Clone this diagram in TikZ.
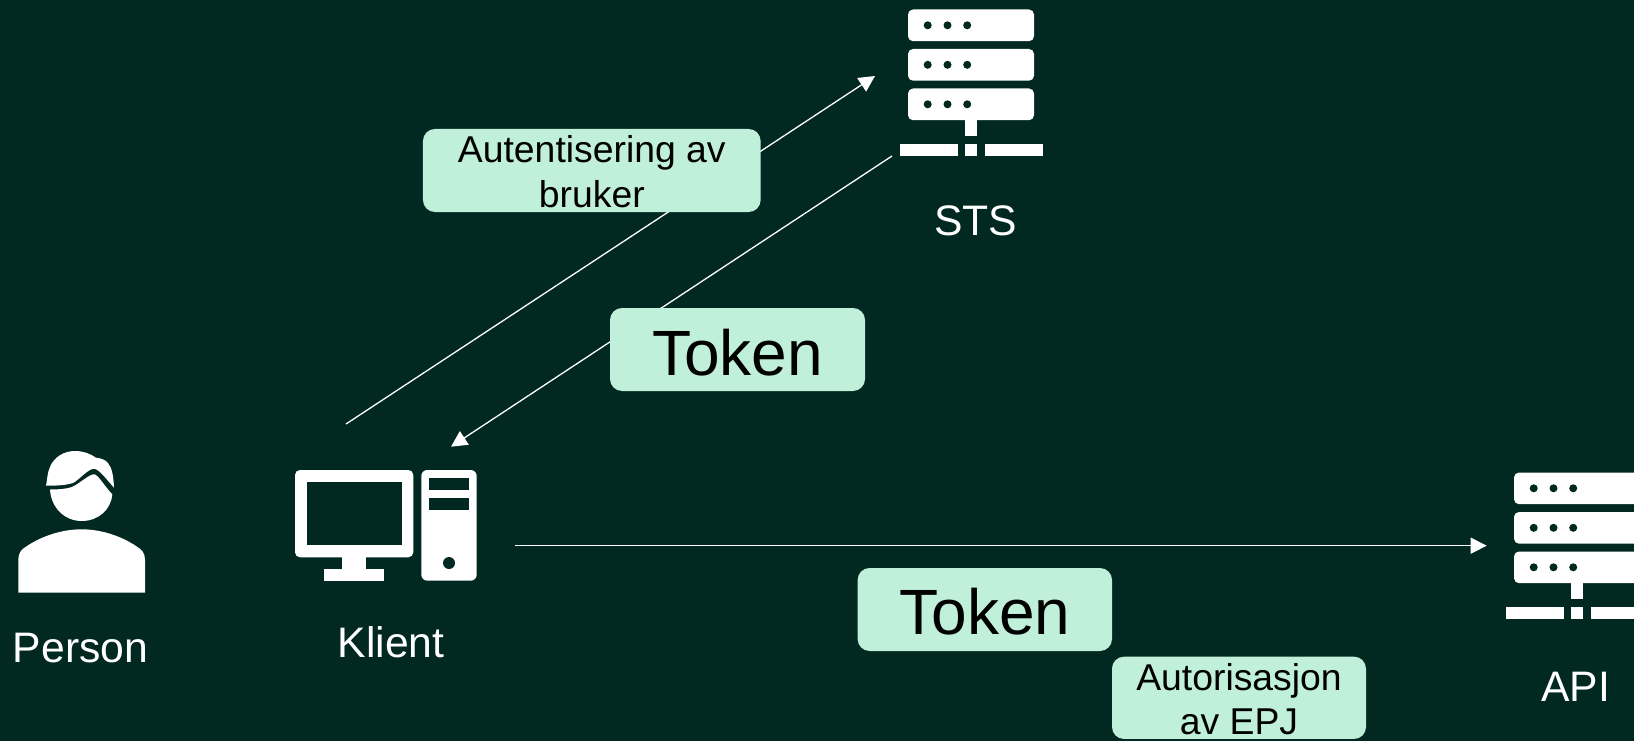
\documentclass[tikz,border=0pt]{standalone}
\usepackage{fontspec}
\setmainfont{Liberation Sans}
\usetikzlibrary{arrows.meta}
\definecolor{bgc}{RGB}{2,41,33}
\definecolor{pillc}{RGB}{193,240,218}
\tikzset{
  x=1pt,y=-1pt,
  pill/.style={fill=pillc,rounded corners=12pt,inner sep=0pt,text=black,align=center},
  lbl/.style={text=white,anchor=base,inner sep=0pt,font=\fontsize{42.67}{46}\selectfont},
  flow/.style={draw=white,line width=1.3pt,-{Triangle[length=16pt,width=16pt]}},
}
\newcommand{\servericon}[2]{%
  \begin{scope}[shift={(#1,#2)}]
    \foreach \yy in {9.5,49,88.5}{
      \fill[white,rounded corners=5pt] (908,\yy) rectangle (1034,\yy+31.7);
      \foreach \xx in {927.7,947.5,967.2}
        \fill[bgc] (\xx,\yy+15.8) circle (4);
    }
    \fill[white] (965,120) rectangle (977,136);
    \fill[white] (900,144) rectangle (957.5,156);
    \fill[white] (965,144) rectangle (977,156);
    \fill[white] (985,144) rectangle (1043,156);
  \end{scope}}
\begin{document}
\begin{tikzpicture}
\useasboundingbox (0,0) rectangle (1634,741);
\fill[bgc] (0,0) rectangle (1634,741);
% connector ends
\coordinate (authStart) at (346,424);
\coordinate (authEnd) at (875,76);
\coordinate (tokStart) at (892,156);
\coordinate (tokEnd) at (451,446.7);
\coordinate (apiStart) at (515,545.7);
\coordinate (apiEnd) at (1486.7,545.7);
\draw[flow] (authStart) -- (authEnd);
\draw[flow] (tokStart) -- (tokEnd);
\draw[flow] (apiStart) -- (apiEnd);
% servers
\servericon{0}{0}
\servericon{606}{463}
% person
\fill[white] (18.3,592.5) -- (18.3,560) .. controls (18.3,553) and (21,549.5) .. (27,546) .. controls (42,536) and (62,529.3) .. (81.7,529.3) .. controls (101,529.3) and (121,536) .. (136,546) .. controls (142,549.5) and (145,553) .. (145,560) -- (145,592.5) -- cycle;
\fill[white] (50,489.5) .. controls (58,489.5) and (66,489) .. (72,487) .. controls (79,484) and (89,474.3) .. (94,474.3) .. controls (98,474.3) and (105,487) .. (112.3,494.3) .. controls (111,510) and (98,521) .. (81.7,521) .. controls (64,521) and (51,507) .. (50,489.5) -- cycle;
\fill[white] (46,485.7) .. controls (47.5,478) and (47.5,472) .. (50,467) .. controls (54,457) and (64,451) .. (75,451) .. controls (83,451) and (90,453.5) .. (96,457.7) .. controls (101,458) and (106,460) .. (108.3,463.5) .. controls (112,468) and (113.5,476) .. (114,487.7) .. controls (107,480) and (99,468.8) .. (94,468.8) .. controls (88,468.8) and (79,480) .. (73,483) .. controls (65,485.5) and (55,485.7) .. (46,485.7) -- cycle;
% computer
\fill[white,rounded corners=5pt] (295,470) rectangle (413.3,557.3);
\fill[bgc] (306.7,481.7) rectangle (401.7,545.3);
\fill[white] (342.3,557) rectangle (366,570);
\fill[white] (324.3,569.3) rectangle (384,580.7);
\fill[white,rounded corners=6pt] (421.3,470) rectangle (476.7,580.7);
\fill[bgc] (429,478) rectangle (469,490);
\fill[bgc] (429,498) rectangle (469,510);
\fill[bgc] (449,563) circle (6);
% labels
\node[lbl] (sts) at (975.5,235.7) {STS};
\node[lbl] (api) at (1575.7,701.7) {API};
\node[lbl] (person) at (80.5,662) {Person};
\node[lbl] (klient) at (391,657.7) {Klient};
% pills
\node[pill,minimum width=337.7pt,minimum height=83pt,font=\fontsize{37.33}{45}\selectfont] (auth) at (591.8,170.5) {\rule{0pt}{30pt}Autentisering av\\bruker};
\node[pill,minimum width=255pt,minimum height=83pt,text height=51pt,text depth=0pt,font=\fontsize{64}{70}\selectfont] (tokenA) at (737.5,349.5) {Token};
\node[pill,minimum width=254.4pt,minimum height=83pt,text height=50pt,text depth=0pt,font=\fontsize{64}{70}\selectfont] (tokenB) at (984.8,609.5) {Token};
\node[pill,minimum width=254pt,minimum height=82.3pt,font=\fontsize{37.33}{44}\selectfont] (authz) at (1239,697.8) {\rule{0pt}{29pt}Autorisasjon\\av EPJ};
\end{tikzpicture}
\end{document}
